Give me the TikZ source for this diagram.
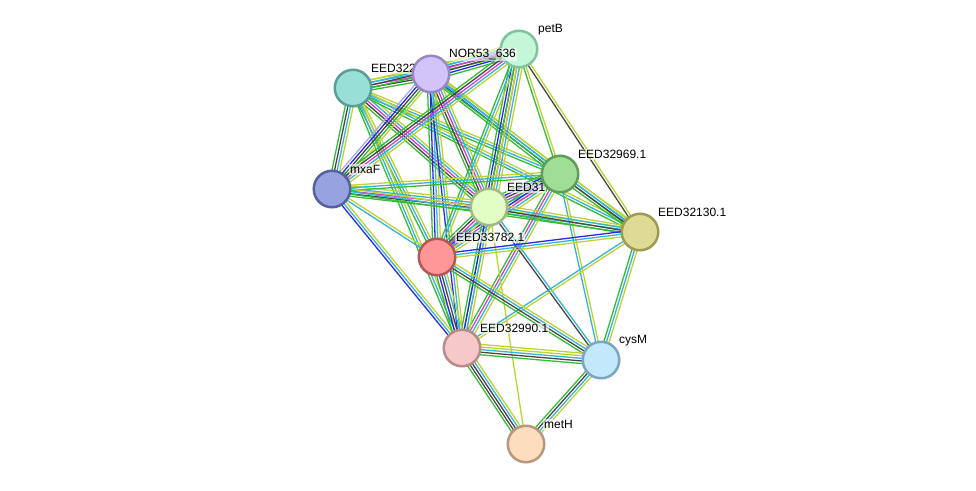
\documentclass[tikz,border=0pt]{standalone}
\usepackage{fontspec}
\setmainfont{Liberation Sans}
\usetikzlibrary{calc,backgrounds}
\definecolor{cG}{HTML}{35BD35}
\definecolor{cB}{HTML}{2828EE}
\definecolor{cK}{HTML}{474747}
\definecolor{cM}{HTML}{D63DD6}
\definecolor{cC}{HTML}{35B4DA}
\definecolor{cL}{HTML}{BDD430}
\definecolor{cP}{HTML}{A9A9F2}
\tikzset{
  pnode/.style={circle, minimum size=36.5pt, inner sep=0pt, line width=2.5pt},
  plabel/.style={anchor=west, font=\fontsize{12}{14}\selectfont, inner sep=1pt,
    fill=white, fill opacity=0.6, text opacity=1},
  eline/.style={line width=1.3pt}
}
\newcommand{\sedge}[3]{%
  \foreach \cc [count=\ii] in {#3} {\xdef\nlines{\ii}}%
  \foreach \cc [count=\ii] in {#3} {%
    \pgfmathsetmacro{\off}{(\ii-(\nlines+1)/2)*2.6}%
    \draw[eline, draw=\cc] ($(#1.center)!\off pt!90:(#2.center)$) -- ($(#2.center)!\off pt!-90:(#1.center)$);
  }}
\begin{document}
\begin{tikzpicture}[x=1pt,y=-1pt]
\useasboundingbox (0,0) rectangle (976,490);
% coordinates of nodes
\coordinate (A) at (353,88);
\coordinate (B) at (431,74);
\coordinate (C) at (519,49);
\coordinate (D) at (332,189);
\coordinate (E) at (560,174);
\coordinate (F) at (489,207);
\coordinate (G) at (640,232);
\coordinate (H) at (437,257);
\coordinate (I) at (462,348);
\coordinate (J) at (601,360);
\coordinate (K) at (526,444);
% edges
\sedge{A}{B}{cG,cK,cM,cC,cL}
\sedge{A}{C}{cG,cK,cC,cL}
\sedge{B}{C}{cG,cB,cK,cM,cC,cL}
\sedge{A}{D}{cG,cK,cC,cL}
\sedge{A}{F}{cG,cK,cM,cC,cL}
\sedge{A}{E}{cG,cC,cL}
\sedge{A}{G}{cG,cC,cL}
\sedge{A}{H}{cG,cC,cL}
\sedge{A}{I}{cG,cC,cL}
\sedge{B}{D}{cP,cB,cK,cG,cL}
\sedge{B}{F}{cG,cK,cM,cC,cL}
\sedge{B}{H}{cG,cB,cC,cL}
\sedge{B}{I}{cB,cC,cL}
\sedge{B}{E}{cG,cB,cC,cL}
\sedge{B}{G}{cG,cC,cL}
\sedge{C}{D}{cG,cK,cM,cC,cL}
\sedge{C}{F}{cG,cB,cK,cM,cC,cL}
\sedge{C}{H}{cG,cC,cL}
\sedge{C}{I}{cG,cL}
\sedge{C}{E}{cG,cL}
\sedge{C}{G}{cK,cL}
\sedge{D}{F}{cG,cK,cM,cC,cL}
\sedge{D}{E}{cG,cC,cL}
\sedge{D}{G}{cG,cC,cL}
\sedge{D}{H}{cC,cL}
\sedge{D}{I}{cB,cC,cL}
\sedge{E}{F}{cG,cB,cK,cM,cC,cL}
\sedge{E}{G}{cG,cK,cC,cL}
\sedge{E}{H}{cG,cB,cM,cC,cL}
\sedge{E}{I}{cG,cM,cC,cL}
\sedge{E}{J}{cC,cL}
\sedge{F}{G}{cG,cK,cC,cL}
\sedge{F}{H}{cG,cK,cM,cC,cL}
\sedge{F}{I}{cG,cB,cC,cL}
\sedge{F}{J}{cK,cC}
\sedge{F}{K}{cL}
\sedge{G}{H}{cB,cC,cL}
\sedge{G}{I}{cC,cL}
\sedge{G}{J}{cG,cC,cL}
\sedge{H}{I}{cG,cB,cK,cC,cL}
\sedge{H}{J}{cG,cK,cC,cL}
\sedge{I}{J}{cG,cK,cC,cL,cL}
\sedge{I}{K}{cG,cK,cK,cC,cL}
\sedge{J}{K}{cG,cK,cC,cL}
% nodes and labels
\node[pnode, fill={rgb,255:red,152;green,224;blue,215}, draw={rgb,255:red,90;green,158;blue,150}] (nA) at (A) {};
\node[plabel] (lA) at ($(A)+(17,-19.5)$) {EED322};
\node[pnode, fill={rgb,255:red,210;green,195;blue,248}, draw={rgb,255:red,152;green,134;blue,198}] (nB) at (B) {};
\node[pnode, fill={rgb,255:red,195;green,247;blue,216}, draw={rgb,255:red,128;green,194;blue,158}] (nC) at (C) {};
\node[plabel] (lB) at ($(B)+(17,-19.5)$) {NOR53\_636};
\node[plabel] (lC) at ($(C)+(18,-19.5)$) {petB};
\node[pnode, fill={rgb,255:red,151;green,163;blue,222}, draw={rgb,255:red,85;green,96;blue,158}] (nD) at (D) {};
\node[plabel] (lD) at ($(D)+(17,-19.5)$) {mxaF};
\node[pnode, fill={rgb,255:red,226;green,254;blue,196}, draw={rgb,255:red,161;green,185;blue,136}] (nF) at (F) {};
\node[plabel] (lF) at ($(F)+(17,-19.5)$) {EED31};
\node[pnode, fill={rgb,255:red,160;green,222;blue,152}, draw={rgb,255:red,95;green,158;blue,87}] (nE) at (E) {};
\node[plabel] (lE) at ($(E)+(17,-19.5)$) {EED32969.1};
\node[pnode, fill={rgb,255:red,222;green,219;blue,151}, draw={rgb,255:red,157;green,154;blue,88}] (nG) at (G) {};
\node[plabel] (lG) at ($(G)+(17,-19.5)$) {EED32130.1};
\node[pnode, fill={rgb,255:red,255;green,151;blue,151}, draw={rgb,255:red,182;green,87;blue,87}] (nH) at (H) {};
\node[plabel] (lH) at ($(H)+(18,-19.5)$) {EED33782.1};
\node[pnode, fill={rgb,255:red,246;green,200;blue,200}, draw={rgb,255:red,184;green,138;blue,138}] (nI) at (I) {};
\node[plabel] (lI) at ($(I)+(17,-19.5)$) {EED32990.1};
\node[pnode, fill={rgb,255:red,195;green,231;blue,251}, draw={rgb,255:red,122;green,166;blue,194}] (nJ) at (J) {};
\node[plabel] (lJ) at ($(J)+(17,-19.5)$) {cysM};
\node[pnode, fill={rgb,255:red,252;green,221;blue,190}, draw={rgb,255:red,185;green,151;blue,124}] (nK) at (K) {};
\node[plabel] (lK) at ($(K)+(17,-19.5)$) {metH};
\end{tikzpicture}
\end{document}
